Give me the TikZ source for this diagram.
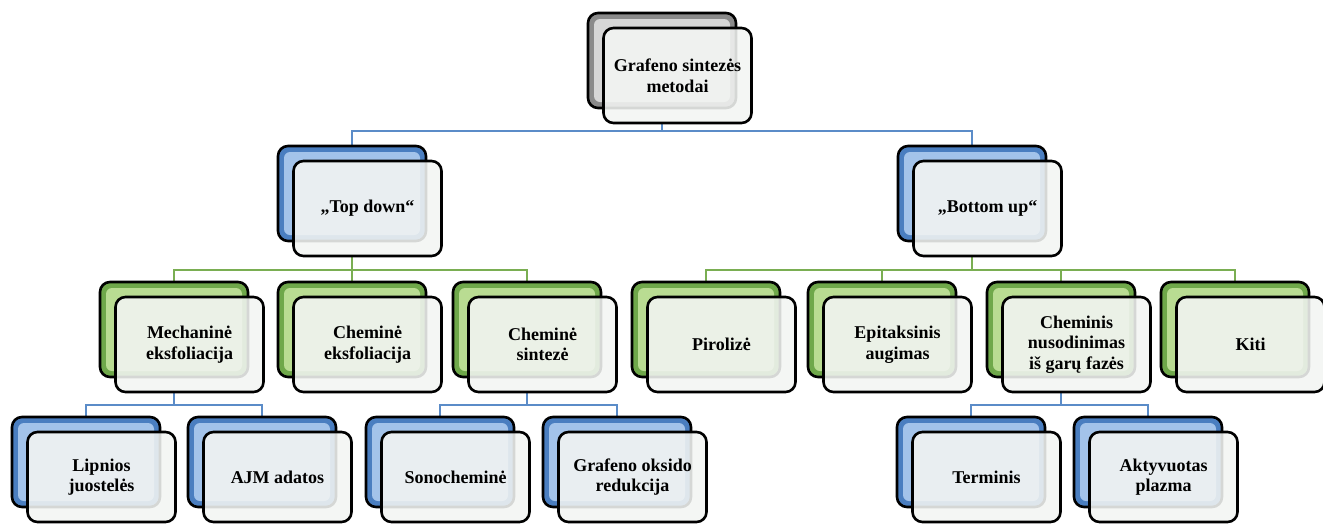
\documentclass[tikz,border=0pt]{standalone}
\usepackage{fontspec}
\setmainfont{Liberation Serif}
\usetikzlibrary{backgrounds}
\definecolor{bOut}{HTML}{4A7EC0}
\definecolor{bIn}{HTML}{A3C3EA}
\definecolor{gOut}{HTML}{6FA84A}
\definecolor{gIn}{HTML}{B9DC92}
\definecolor{kOut}{HTML}{8A8A8A}
\definecolor{kIn}{HTML}{D6D6D6}
\definecolor{bLine}{HTML}{5B8CC8}
\definecolor{gLine}{HTML}{7AAE52}
\definecolor{frontFill}{HTML}{F3F5F3}
\tikzset{
  backbox/.style 2 args={draw=black, line width=2.6pt, rounded corners=10pt,
    minimum width=148pt, fill=#1, inner sep=0pt,
    path picture={\fill[#2,rounded corners=6pt]
      ([shift={(6pt,-6pt)}]path picture bounding box.north west) rectangle
      ([shift={(-6pt,6pt)}]path picture bounding box.south east);}},
  frontbox/.style={draw=black, line width=2.6pt, rounded corners=10pt,
    minimum width=148pt, fill=frontFill, fill opacity=0.88, text opacity=1,
    align=center, inner sep=2pt,
    font=\fontsize{18pt}{20.5pt}\selectfont\bfseries},
  bline/.style={draw=bLine, line width=2.6pt},
  gline/.style={draw=gLine, line width=2.6pt}
}
% name, x, y (back centre), outer, inner, height, text
\newcommand\smnode[7]{%
  \node[backbox={#4}{#5}, minimum height=#6] (#1b) at (#2,#3) {};
  \node[frontbox, minimum height=#6] (#1) at ([shift={(15.5pt,-15pt)}]#1b.center) {#7};
}
\begin{document}
\begin{tikzpicture}[x=1pt,y=-1pt]
\useasboundingbox (0,0) rectangle (1323,523);
\smnode{top}{662}{60.5}{kOut}{kIn}{95pt}{Grafeno sintezės\\metodai}
\smnode{td}{352}{193.5}{bOut}{bIn}{95pt}{„Top down“}
\smnode{bu}{972}{193.5}{bOut}{bIn}{95pt}{„Bottom up“}
\smnode{mech}{174}{329.5}{gOut}{gIn}{95pt}{Mechaninė\\eksfoliacija}
\smnode{chemeks}{352}{329.5}{gOut}{gIn}{95pt}{Cheminė\\eksfoliacija}
\smnode{chemsint}{527}{329.5}{gOut}{gIn}{95pt}{Cheminė\\sintezė}
\smnode{piro}{706}{329.5}{gOut}{gIn}{95pt}{Pirolizė}
\smnode{epi}{882}{329.5}{gOut}{gIn}{95pt}{Epitaksinis\\augimas}
\smnode{cvd}{1061}{329.5}{gOut}{gIn}{95pt}{\fontsize{18pt}{19pt}\selectfont Cheminis\\nusodinimas\\iš garų fazės}
\smnode{kiti}{1235}{329.5}{gOut}{gIn}{95pt}{Kiti}
\smnode{lip}{86}{462}{bOut}{bIn}{90pt}{Lipnios\\juostelės}
\smnode{ajm}{262}{462}{bOut}{bIn}{90pt}{AJM adatos}
\smnode{sono}{440}{462}{bOut}{bIn}{90pt}{Sonocheminė}
\smnode{gor}{617}{462}{bOut}{bIn}{90pt}{Grafeno oksido\\redukcija}
\smnode{term}{971}{462}{bOut}{bIn}{90pt}{Terminis}
\smnode{akt}{1148}{462}{bOut}{bIn}{90pt}{Aktyvuotas\\plazma}
\coordinate (bus0) at (0,131);
\coordinate (bus1) at (0,270);
\coordinate (bus2) at (0,405);
\begin{pgfonlayer}{background}
\draw[bline] (topb.center |- top.south) -- (topb.center |- bus0) -| (tdb.north);
\draw[bline] (topb.center |- bus0) -| (bub.north);
\draw[gline] (tdb.center |- td.south) -- (tdb.center |- bus1) -| (mechb.north);
\draw[gline] (tdb.center |- bus1) -- (chemeksb.north);
\draw[gline] (tdb.center |- bus1) -| (chemsintb.north);
\draw[gline] (bub.center |- bu.south) -- (bub.center |- bus1) -| (pirob.north);
\draw[gline] (bub.center |- bus1) -| (epib.north);
\draw[gline] (bub.center |- bus1) -| (cvdb.north);
\draw[gline] (bub.center |- bus1) -| (kitib.north);
\draw[bline] (mechb.center |- mech.south) -- (mechb.center |- bus2) -| (lipb.north);
\draw[bline] (mechb.center |- bus2) -| (ajmb.north);
\draw[bline] (chemsintb.center |- chemsint.south) -- (chemsintb.center |- bus2) -| (sonob.north);
\draw[bline] (chemsintb.center |- bus2) -| (gorb.north);
\draw[bline] (cvdb.center |- cvd.south) -- (cvdb.center |- bus2) -| (termb.north);
\draw[bline] (cvdb.center |- bus2) -| (aktb.north);
\end{pgfonlayer}
\end{tikzpicture}
\end{document}
